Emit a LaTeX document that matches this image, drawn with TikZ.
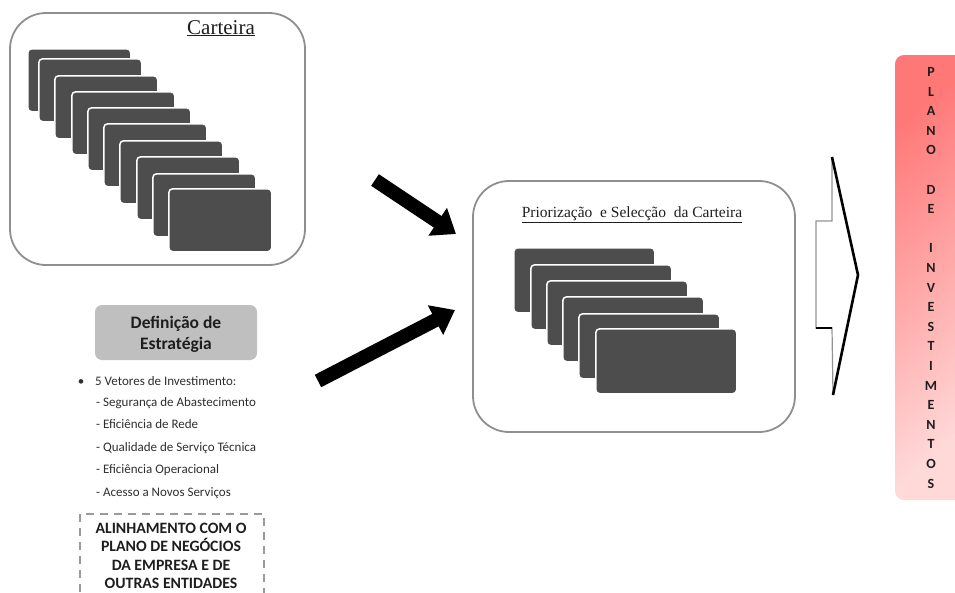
\documentclass[tikz,border=0pt]{standalone}
\usepackage{fontspec}
\setmainfont{Liberation Serif}
\newfontfamily\calib{Carlito}
\usetikzlibrary{arrows.meta}
\definecolor{cardgray}{HTML}{4D4D4D}
\definecolor{framegray}{HTML}{8F8F8F}
\definecolor{defgray}{HTML}{BFBFBF}
\definecolor{txt}{HTML}{1E1E1E}
\definecolor{listtxt}{HTML}{2E2E2E}
\definecolor{redA}{HTML}{FF7878}
\definecolor{redB}{HTML}{FFD8D8}
\definecolor{dashgray}{HTML}{9A9A9A}
\begin{document}
\begin{tikzpicture}[x=1pt,y=-1pt,
  frame/.style={draw=framegray, line width=1.8pt, rounded corners=36pt, fill=white, inner sep=0pt},
  card/.style={draw=white, line width=1.5pt, fill=cardgray, rounded corners=4pt, anchor=north west, inner sep=0pt},
  bigarrow/.style={line width=14pt, -{Triangle[length=22pt,width=32pt]}},
  titletxt/.style={anchor=base, text=txt, inner sep=0pt},
  listitem/.style={anchor=base west, inner sep=0pt, text=listtxt, font=\calib\fontsize{13}{15}\selectfont},
  boldtxt/.style={align=center, text=txt, inner sep=0pt},
  letter/.style={anchor=center, inner sep=0pt, text=txt, font=\calib\bfseries\fontsize{14}{15}\selectfont}
]
\useasboundingbox (0,0) rectangle (955,592);

% ---------- Carteira ----------
\node[frame, minimum width=295pt, minimum height=252pt] (cart) at (157.5,139) {};
\node[titletxt, font=\fontsize{21}{24}\selectfont] (carttitle) at (221,34) {\underline{Carteira}};
\foreach \i/\x/\y in {1/27/48,2/38/58,3/54/75,4/71/91,5/87/107,6/103/123,7/119/140,8/136/156,9/152/173,10/168/188}
  \node[card, minimum width=103pt, minimum height=63pt] (ca\i) at (\x,\y) {};

% ---------- Priorizacao ----------
\node[frame, minimum width=322pt, minimum height=251pt] (prior) at (634,306.5) {};
\node[titletxt, font=\fontsize{15.5}{18}\selectfont] (priortitle) at (632,217) {\underline{Priorização\ \ e Selecção\ \ da Carteira}};
\foreach \i/\x/\y in {1/513/247,2/530/264,3/546/280,4/562/296,5/578/313,6/595/328}
  \node[card, minimum width=141pt, minimum height=65pt] (cp\i) at (\x,\y) {};

% ---------- arrows ----------
\coordinate (a1s) at (375,180);
\coordinate (a1e) at (456,234);
\coordinate (a2s) at (318,381);
\coordinate (a2e) at (455,310);
\draw[bigarrow] (a1s) -- (a1e);
\draw[bigarrow] (a2s) -- (a2e);

% ---------- Definicao de Estrategia ----------
\node[fill=defgray, rounded corners=7pt, minimum width=162pt, minimum height=55pt, inner sep=0pt] (def) at (176,332.5) {};
\node[boldtxt, font=\calib\bfseries\fontsize{17.5}{21}\selectfont] (deftxt) at (176,334) {Definição de\\Estratégia};

\node[anchor=base, inner sep=0pt, text=listtxt, font=\calib\fontsize{13}{15}\selectfont] (bul) at (81,385) {•};
\node[listitem] (v0) at (95,385) {5 Vetores de Investimento:};
\node[listitem] (v1) at (96,406) {- Segurança de Abastecimento};
\node[listitem] (v2) at (96,428) {- Eficiência de Rede};
\node[listitem] (v3) at (96,451) {- Qualidade de Serviço Técnica};
\node[listitem] (v4) at (96,473) {- Eficiência Operacional};
\node[listitem] (v5) at (96,496) {- Acesso a Novos Serviços};

% ---------- Alinhamento ----------
\draw[dashgray, line width=1.8pt, dash pattern=on 8pt off 6pt] (80,620) -- (80,514) -- (264,514) -- (264,620);
\node[boldtxt, font=\calib\bfseries\fontsize{15.8}{18.3}\selectfont] (alin) at (171,556) {ALINHAMENTO COM O\\PLANO DE NEGÓCIOS\\DA EMPRESA E DE\\OUTRAS ENTIDADES};

% ---------- chevron ----------
\coordinate (h1) at (832,157);
\coordinate (h2) at (832,221);
\coordinate (h3) at (816,221);
\coordinate (h4) at (816,328);
\coordinate (h5) at (832,328);
\coordinate (h6) at (833,395);
\coordinate (h7) at (858,275);
\draw[gray!85, line width=1.2pt] (h1) -- (h2) -- (h3) -- (h4) -- (h5) -- (h6);
\draw[black, line width=1.8pt] (h4) -- (h5);
\draw[black, line width=2.6pt, line join=miter] (h1) -- (h7) -- (h6);

% ---------- Plano de Investimentos ----------
\node[rounded corners=9pt, top color=redA, bottom color=redB, shading angle=40, minimum width=72pt, minimum height=445pt, inner sep=0pt] (plano) at (931,277.5) {};
\foreach \l [count=\k from 0] in {P,L,A,N,O,{},D,E,{},I,N,V,E,S,T,I,M,E,N,T,O,S}
  \node[letter] (pl\k) at (931,{72+19.6*\k}) {\l};
\end{tikzpicture}
\end{document}
